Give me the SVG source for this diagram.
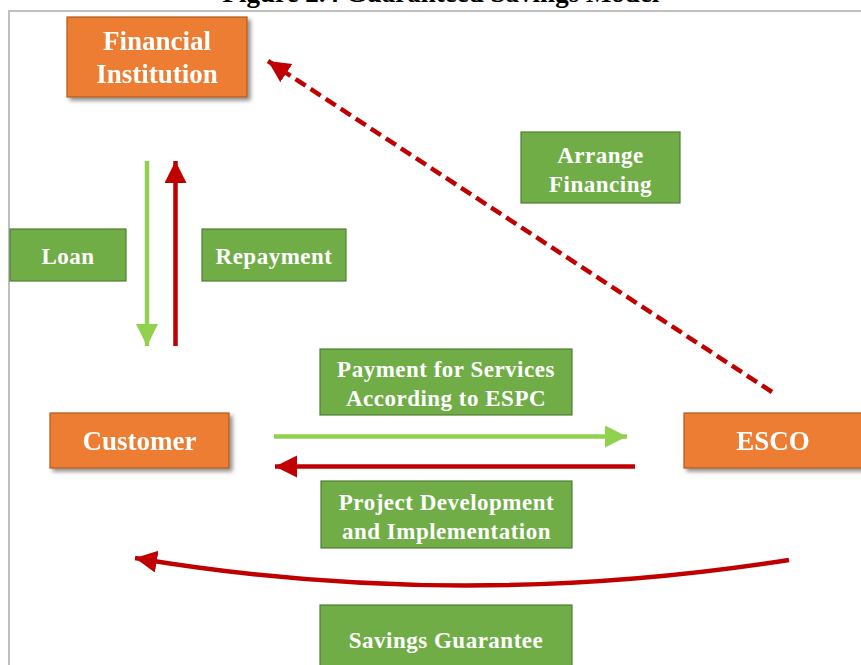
<svg xmlns="http://www.w3.org/2000/svg" width="861" height="665" viewBox="0 0 861 665">
  <style>
    .title { font-family: "Liberation Serif", "Times New Roman", serif; font-weight: bold; font-size: 27px; fill: #000; }
    .org rect { fill: #ED7D31; stroke: #AE5A21; stroke-width: 1.2; }
    .grn rect { fill: #70AD47; stroke: #507E32; stroke-width: 1.2; }
    .org text { font-family: "Liberation Serif", "Times New Roman", serif; font-weight: bold; font-size: 27px; fill: #fff; text-anchor: middle; }
    .grn text { font-family: "Liberation Serif", "Times New Roman", serif; font-weight: bold; font-size: 23px; fill: #fff; text-anchor: middle; letter-spacing: 0.5px; }
    .lg { stroke: #92D050; stroke-width: 4.5; fill: none; }
    .rd { stroke: #C00000; stroke-width: 4.5; fill: none; }
    .dash { stroke-dasharray: 12 6; }
  </style>
  <defs>
    <filter id="shadow" x="-10%" y="-10%" width="130%" height="140%">
      <feGaussianBlur in="SourceAlpha" stdDeviation="2"/>
      <feOffset dx="3" dy="3" result="b"/>
      <feComponentTransfer><feFuncA type="linear" slope="0.45"/></feComponentTransfer>
      <feMerge><feMergeNode/><feMergeNode in="SourceGraphic"/></feMerge>
    </filter>
    <marker id="headG" markerUnits="userSpaceOnUse" markerWidth="24" markerHeight="24" refX="22" refY="11" orient="auto">
      <path d="M0,0 L22,11 L0,22 Z" fill="#92D050"/>
    </marker>
    <marker id="headR" markerUnits="userSpaceOnUse" markerWidth="24" markerHeight="24" refX="22" refY="11" orient="auto">
      <path d="M0,0 L22,11 L0,22 Z" fill="#C00000"/>
    </marker>
  </defs>

  <rect width="861" height="665" fill="#fff"/>

  <!-- page heading, running off the top edge -->
  <text class="title" x="441" y="2" text-anchor="middle">Figure 2.4 Guaranteed Savings Model</text>

  <!-- frame -->
  <path d="M9,665 V11 H861" fill="none" stroke="#BFBFBF" stroke-width="2"/>

  <!-- connectors -->
  <g id="connectors">
    <line class="lg" x1="147" y1="161" x2="147" y2="346" marker-end="url(#headG)"/>
    <line class="rd" x1="175.5" y1="346" x2="175.5" y2="161" marker-end="url(#headR)"/>
    <line class="lg" x1="274" y1="436.5" x2="627" y2="436.5" marker-end="url(#headG)"/>
    <line class="rd" x1="635" y1="466.5" x2="275" y2="466.5" marker-end="url(#headR)"/>
    <line class="rd dash" x1="772" y1="392" x2="268" y2="61" marker-end="url(#headR)"/>
    <path class="rd" d="M789,560 Q457,612 135,558" marker-end="url(#headR)"/>
  </g>

  <!-- nodes -->
  <g id="financial-institution" class="org" filter="url(#shadow)">
    <rect x="67" y="17" width="180" height="80"/>
    <text x="157" y="50">Financial</text>
    <text x="157" y="83">Institution</text>
  </g>
  <g id="customer" class="org" filter="url(#shadow)">
    <rect x="50" y="413" width="179" height="55"/>
    <text x="139.5" y="450">Customer</text>
  </g>
  <g id="esco" class="org" filter="url(#shadow)">
    <rect x="684" y="413" width="190" height="55"/>
    <text x="773" y="450">ESCO</text>
  </g>

  <g id="loan" class="grn">
    <rect x="10" y="229" width="116" height="52"/>
    <text x="68" y="264">Loan</text>
  </g>
  <g id="repayment" class="grn">
    <rect x="202" y="229" width="144" height="52"/>
    <text x="274" y="264">Repayment</text>
  </g>
  <g id="arrange-financing" class="grn">
    <rect x="521" y="132" width="159" height="71"/>
    <text x="600.5" y="163">Arrange</text>
    <text x="600.5" y="192">Financing</text>
  </g>
  <g id="payment-for-services" class="grn">
    <rect x="320" y="349" width="252" height="66"/>
    <text x="446" y="377">Payment for Services</text>
    <text x="446" y="406">According to ESPC</text>
  </g>
  <g id="project-development" class="grn">
    <rect x="321" y="481" width="251" height="67"/>
    <text x="446.5" y="510">Project Development</text>
    <text x="446.5" y="539">and Implementation</text>
  </g>
  <g id="savings-guarantee" class="grn">
    <rect x="320" y="605" width="252" height="70"/>
    <text x="446" y="648">Savings Guarantee</text>
  </g>
</svg>
